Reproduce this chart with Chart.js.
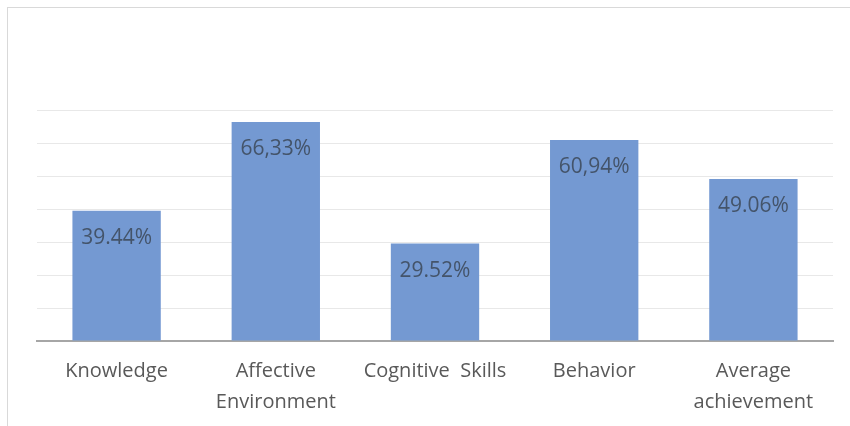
<!DOCTYPE html>
<html>
<head>
<meta charset="utf-8">
<script src="https://cdn.jsdelivr.net/npm/chart.js@4.4.0/dist/chart.umd.min.js"></script>
<style>
  html, body { margin: 0; padding: 0; background: #fff; }
  .wrap { position: relative; width: 850px; height: 426px; overflow: hidden; }
  .frame { position: absolute; left: 7px; top: 7px; width: 860px; height: 440px; border: 1px solid #d9d9d9; box-sizing: border-box; }
  canvas { position: absolute; left: 0; top: 0; }
</style>
</head>
<body>
<div class="wrap">
  <div class="frame"></div>
  <canvas id="myChart" width="850" height="426"></canvas>
</div>
<script>
  const categories = [['Knowledge'], ['Affective', 'Environment'], ['Cognitive  Skills'], ['Behavior'], ['Average', 'achievement']];
  const values = [39.44, 66.33, 29.52, 60.94, 49.06];
  // labels as printed on the bars (mixed separators kept)
  const valueLabels = ['39.44%', '66,33%', '29.52%', '60,94%', '49.06%'];
  const yTicks = [0, 10, 20, 30, 40, 50, 60, 70];

  const barLabels = {
    id: 'barLabels',
    afterDatasetsDraw(chart) {
      const ctx = chart.ctx;
      const meta = chart.getDatasetMeta(0);
      ctx.save();
      ctx.font = '21px "Open Sans"';
      ctx.fillStyle = '#44546a';
      ctx.textAlign = 'center';
      ctx.textBaseline = 'middle';
      meta.data.forEach((bar, i) => {
        ctx.fillText(valueLabels[i], bar.x, bar.y + 27);
      });
      ctx.restore();
    }
  };

  const ctx = document.getElementById('myChart').getContext('2d');
  new Chart(ctx, {
    type: 'bar',
    data: {
      labels: categories,
      datasets: [{
        data: values,
        backgroundColor: '#7499d2',
        categoryPercentage: 1,
        barPercentage: 0.555,
      }],
    },
    options: {
      responsive: false,
      animation: false,
      layout: { padding: { left: 37, right: 17, top: 110, bottom: 0 } },
      plugins: {
        legend: { display: false },
        tooltip: { enabled: false },
      },
      scales: {
        x: {
          afterFit(axis) { axis.height = 85; },
          grid: { display: false, drawTicks: false },
          border: { display: true, color: '#a6a6a6', width: 2 },
          ticks: {
            color: '#595959',
            padding: 15,
            maxRotation: 0,
            autoSkip: false,
            font: { family: 'Open Sans', size: 20, lineHeight: '31px' },
          },
        },
        y: {
          min: 0,
          max: 70,
          afterBuildTicks(axis) { axis.ticks = yTicks.map(v => ({ value: v })); },
          grid: { color: '#e8e8e8', drawTicks: false },
          border: { display: false },
          ticks: { display: false },
        },
      },
    },
    plugins: [barLabels],
  });
</script>
</body>
</html>
